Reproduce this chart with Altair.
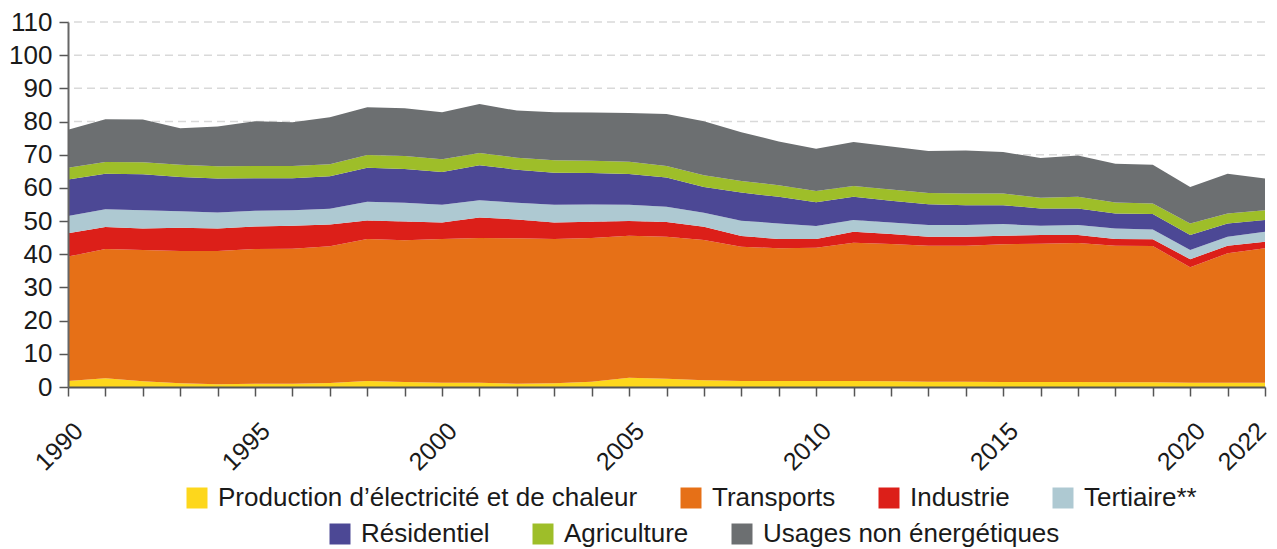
import altair as alt
import pandas as pd

years = list(range(1990, 2023))

categories = [
    "Production d\u2019électricité et de chaleur",
    "Transports",
    "Industrie",
    "Tertiaire**",
    "Résidentiel",
    "Agriculture",
    "Usages non énergétiques",
]
colors = ["#FDD71C", "#E67017", "#DC1F19", "#AEC9D2", "#4C4895", "#9EBE29", "#6C6F71"]

production = [1.8, 2.6, 1.7, 1.1, 0.8, 1.0, 1.0, 1.2, 1.8, 1.5, 1.3, 1.3, 1.0, 1.1, 1.6, 2.8, 2.5,
              2.0, 1.8, 1.8, 1.8, 1.8, 1.7, 1.6, 1.6, 1.5, 1.5, 1.5, 1.4, 1.4, 1.3, 1.3, 1.3]
transports = [37.5, 39.0, 39.6, 39.9, 40.2, 40.6, 40.7, 41.2, 42.8, 42.7, 43.3, 43.6, 43.8, 43.5, 43.3,
              42.8, 42.8, 42.3, 40.5, 40.0, 40.2, 41.7, 41.4, 41.0, 41.0, 41.5, 41.7, 41.9, 41.2, 41.1,
              34.8, 39.0, 40.5]
industrie = [7.0, 6.6, 6.5, 7.0, 6.8, 6.8, 6.9, 6.6, 5.6, 5.7, 5.0, 6.2, 5.7, 5.0, 4.9, 4.4, 4.4, 4.0,
             3.2, 2.8, 2.6, 3.3, 3.0, 2.7, 2.7, 2.6, 2.6, 2.4, 2.0, 2.0, 2.4, 2.3, 2.0]
tertiaire = [5.2, 5.4, 5.5, 5.0, 4.8, 4.7, 4.7, 4.7, 5.6, 5.6, 5.3, 5.2, 5.0, 5.3, 5.2, 4.9, 4.6, 4.2,
             4.6, 4.7, 3.9, 3.5, 3.5, 3.5, 3.5, 3.5, 2.8, 3.0, 3.2, 3.0, 2.8, 2.7, 3.0]
residentiel = [11.0, 10.7, 10.8, 10.3, 10.2, 9.8, 9.6, 9.8, 10.3, 10.2, 9.9, 10.5, 10.0, 9.7, 9.5, 9.3,
               8.8, 7.8, 8.5, 8.0, 7.2, 7.0, 6.5, 6.3, 6.0, 5.7, 5.2, 5.0, 4.5, 4.6, 4.5, 4.0, 3.5]
agriculture = [3.6, 3.5, 3.6, 3.7, 3.7, 3.7, 3.7, 3.6, 3.8, 3.9, 3.8, 3.7, 3.6, 3.7, 3.7, 3.7, 3.5, 3.5,
               3.5, 3.5, 3.4, 3.3, 3.4, 3.4, 3.5, 3.5, 3.2, 3.5, 3.3, 3.2, 3.5, 3.0, 3.0]
non_energetiques = [11.4, 12.9, 12.9, 11.0, 12.0, 13.5, 13.2, 14.2, 14.4, 14.4, 14.2, 14.8, 14.2, 14.5,
                    14.5, 14.7, 15.7, 16.3, 14.7, 13.2, 12.7, 13.2, 13.0, 12.6, 13.0, 12.5, 12.0, 12.5,
                    11.7, 11.7, 11.0, 12.0, 9.5]

y_ticks = list(range(0, 111, 10))
grid_values = list(range(10, 111, 10))
x_label_years = [1990, 1995, 2000, 2005, 2010, 2015, 2020, 2022]

series = [production, transports, industrie, tertiaire, residentiel, agriculture, non_energetiques]
rows = []
for k, (cat, vals) in enumerate(zip(categories, series)):
    for yr, v in zip(years, vals):
        rows.append({"annee": yr, "secteur": cat, "valeur": v, "ordre": k})
df = pd.DataFrame(rows)
grid_df = pd.DataFrame({"g": grid_values})

FONT = "Liberation Sans"
TXT = "#1a1a1a"

label_expr = "indexof([" + ",".join(str(v) for v in x_label_years) + "], datum.value) >= 0 ? datum.value : ''"

x_enc = alt.X(
    "annee:Q",
    scale=alt.Scale(domain=[1990, 2022], nice=False, zero=False),
    axis=alt.Axis(
        title=None, values=years, labelExpr=label_expr, format="d",
        labelAngle=-45, labelAlign="right", labelBaseline="top",
        labelOffset={"condition": {"test": "datum.value == 2022", "value": -12}, "value": 2},
        labelPadding=22, labelOverlap=False,
        labelFont=FONT, labelFontSize=25, labelColor=TXT,
        tickSize=9, tickColor="#555555", tickWidth=1.5,
        domainColor="#555555", domainWidth=2, grid=False, zindex=1,
        labelFlush=False,
    ),
)
y_scale = alt.Scale(domain=[0, 110], nice=False)


def y_axis():
    return alt.Axis(
        title=None, values=y_ticks, labelFont=FONT, labelFontSize=26, labelColor=TXT,
        labelPadding=7, tickSize=9, tickColor="#555555", tickWidth=1.5,
        domainColor="#666666", domainWidth=2, grid=False, zindex=1,
    )


grid = alt.Chart(grid_df).mark_rule(
    color="#d9d9d9", strokeDash=[8, 5], strokeWidth=1.5
).encode(y=alt.Y("g:Q", scale=y_scale, axis=y_axis()))

area = alt.Chart(df).mark_area(interpolate="linear").encode(
    x=x_enc,
    y=alt.Y("valeur:Q", stack="zero", scale=y_scale, axis=y_axis()),
    color=alt.Color("secteur:N", scale=alt.Scale(domain=categories, range=colors), legend=None),
    order=alt.Order("ordre:Q", sort="ascending"),
)


def legend_layer(cats, lx, ly):
    sub = df[df["secteur"].isin(cats)]
    return alt.Chart(sub).mark_square(opacity=0).encode(
        color=alt.Color(
            "secteur:N",
            scale=alt.Scale(domain=cats, range=[colors[categories.index(c)] for c in cats]),
            legend=alt.Legend(
                title=None, orient="none", legendX=lx, legendY=ly,
                direction="horizontal", columns=len(cats),
                symbolType="square", symbolSize=441, symbolStrokeWidth=0, symbolOpacity=1,
                labelFont=FONT, labelFontSize=26, labelColor=TXT, labelOffset=8,
                columnPadding=40, padding=0, labelLimit=600,
            ),
        )
    )


leg1 = legend_layer(categories[:4], 116, 463)
leg2 = legend_layer(categories[4:], 259, 499)

chart = (
    alt.layer(grid, area, leg1, leg2)
    .resolve_scale(color="independent")
    .properties(
        width=1197, height=365,
        autosize=alt.AutoSizeParams(type="none"),
        padding={"left": 60, "top": 14, "right": 4, "bottom": 162},
        background="white",
    )
    .configure_view(strokeWidth=0)
)

chart.save("out.html", embed_options={"renderer": "svg", "actions": False})
